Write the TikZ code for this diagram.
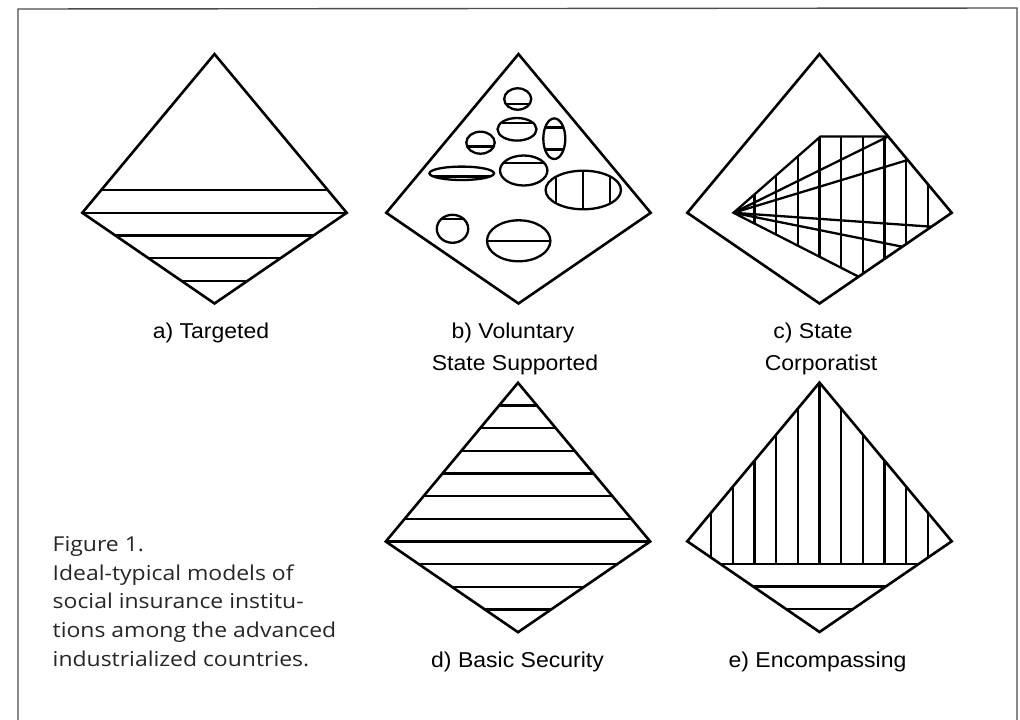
\documentclass[tikz,border=0pt]{standalone}
\usepackage{fontspec}
\setmainfont{Liberation Sans}
\newfontfamily\labfont[FakeStretch=1.07]{Liberation Sans}
\newfontfamily\capfont[FakeStretch=1.12]{Open Sans}

% ellipse with its inner chords: centre x, centre y, x radius, y radius, chord code
\newcommand\blobdraw[5]{%
  \begin{scope}
    \clip (#1,#2) ellipse [x radius=#3pt, y radius=#4pt];
    #5
  \end{scope}
  \draw[oval] (#1,#2) ellipse [x radius=#3pt, y radius=#4pt];
}

\begin{document}
\begin{tikzpicture}[x=1pt,y=-1pt,
  kiteline/.style={line width=2.6pt, line join=miter},
  hatch/.style={line width=2.3pt},
  oval/.style={line width=2.3pt},
  chord/.style={line width=2.1pt},
  lab/.style={font=\labfont\fontsize{21.5}{26}\selectfont, inner sep=0pt, anchor=base},
  captext/.style={font=\capfont\fontsize{20.5}{25}\selectfont, text=black!85, inner sep=0pt, anchor=base west},
  frame/.style={line width=1.4pt, draw=black!70}]

\useasboundingbox (0,0) rectangle (1020,720);

% outer frame, open at the bottom
\draw[frame] (18,735) -- (18,9) -- (1017,8) -- (1017,735);

% the five kites: top, right, bottom, left corners
\foreach \n/\cx/\my in {a/214.5/212.8, b/518.5/212.8, c/819.5/212.8, d/518/541.5, e/819.5/541.3} {
  \coordinate (\n T) at (\cx,\my-158.7);
  \coordinate (\n R) at (\cx+132.2,\my);
  \coordinate (\n B) at (\cx,\my+90.7);
  \coordinate (\n L) at (\cx-132.2,\my);
}

% a) horizontal bands in the lower part
\begin{scope}
  \clip (aT) -- (aR) -- (aB) -- (aL) -- cycle;
  \foreach \k in {-1,...,3}
    \draw[hatch] (60,212.8+\k*22.67) -- (370,212.8+\k*22.67);
\end{scope}
\draw[kiteline] (aT) -- (aR) -- (aB) -- (aL) -- cycle;

% b) scattered ellipses
\draw[kiteline] (bT) -- (bR) -- (bB) -- (bL) -- cycle;
\blobdraw{517.7}{99}{13.5}{10.7}{\draw[chord] (490,104.3) -- (545,104.3);}
\blobdraw{517}{129.3}{19.5}{11.3}{\draw[chord] (490,123) -- (545,123);}
\blobdraw{554.3}{138.7}{11}{20.3}{\draw[chord] (535,127.5) -- (575,127.5); \draw[chord] (535,149.5) -- (575,149.5);}
\blobdraw{480.5}{142.7}{14.2}{11}{\draw[chord] (460,146.5) -- (500,146.5);}
\blobdraw{461.7}{173.3}{32.3}{6.7}{\draw[chord] (420,176.5) -- (500,176.5);}
\blobdraw{523.7}{170.5}{23.7}{15}{\draw[chord] (495,163) -- (555,163);}
\blobdraw{583.3}{190}{37.7}{19.3}{\draw[chord] (556,165) -- (556,215); \draw[chord] (583.3,165) -- (583.3,215); \draw[chord] (610,165) -- (610,215);}
\blobdraw{452.5}{228.8}{15.7}{14}{\draw[chord] (430,219.3) -- (475,219.3);}
\blobdraw{518.7}{240.8}{31.7}{20.5}{\draw[chord] (480,240.8) -- (560,240.8);}

% c) fan of rays crossed by vertical lines
\coordinate (cP) at (733.5,212.8);
\coordinate (cU) at (820.5,136.5);
\coordinate (cQ) at (888.1,136.5);
\coordinate (cR1) at (907.7,160);
\coordinate (cR2) at (931.4,226.7);
\coordinate (cR3) at (902.3,246.7);
\coordinate (cW) at (858.6,276.7);
\begin{scope}
  \clip (cP) -- (cU) -- (cQ) -- (cR) -- (cW) -- cycle;
  \foreach \k in {-3,...,5}
    \draw[hatch] (819.5+\k*21.7,120) -- (819.5+\k*21.7,300);
\end{scope}
\draw[hatch, line join=miter] (cW) -- (cP) -- (cU) -- (cQ);
\foreach \r in {cQ,cR1,cR2,cR3}
  \draw[hatch] (cP) -- (\r);
\draw[kiteline] (cT) -- (cR) -- (cB) -- (cL) -- cycle;

% d) horizontal bands throughout
\begin{scope}
  \clip (dT) -- (dR) -- (dB) -- (dL) -- cycle;
  \foreach \k in {-6,...,3}
    \draw[hatch] (360,541.5+\k*22.67) -- (680,541.5+\k*22.67);
\end{scope}
\draw[kiteline] (dT) -- (dR) -- (dB) -- (dL) -- cycle;

% e) vertical lines above, horizontal bands below
\begin{scope}
  \clip (eT) -- (eR) -- (eB) -- (eL) -- cycle;
  \begin{scope}
    \clip (650,370) rectangle (990,563.97);
    \foreach \k in {-5,...,5}
      \draw[hatch] (819.5+\k*21.7,370) -- (819.5+\k*21.7,570);
  \end{scope}
  \foreach \k in {1,...,3}
    \draw[hatch] (660,541.3+\k*22.67) -- (980,541.3+\k*22.67);
\end{scope}
\draw[kiteline] (eT) -- (eR) -- (eB) -- (eL) -- cycle;

% labels
\node[lab] (la)  at (211,338) {a) Targeted};
\node[lab] (lb1) at (513,338) {b) Voluntary};
\node[lab] (lb2) at (515,370) {State Supported};
\node[lab] (lc1) at (813,338) {c) State};
\node[lab] (lc2) at (821,370) {Corporatist};
\node[lab] (ld)  at (517.5,667) {d) Basic Security};
\node[lab] (le)  at (817.5,667) {e) Encompassing};

% caption
\node[captext] (f0) at (52.5,551) {Figure 1.};
\node[captext] (f1) at (52.5,580) {Ideal-typical models of};
\node[captext] (f2) at (52.5,608.5) {social insurance institu-};
\node[captext] (f3) at (52.5,637.5) {tions among the advanced};
\node[captext] (f4) at (52.5,666.5) {industrialized countries.};
\end{tikzpicture}
\end{document}
